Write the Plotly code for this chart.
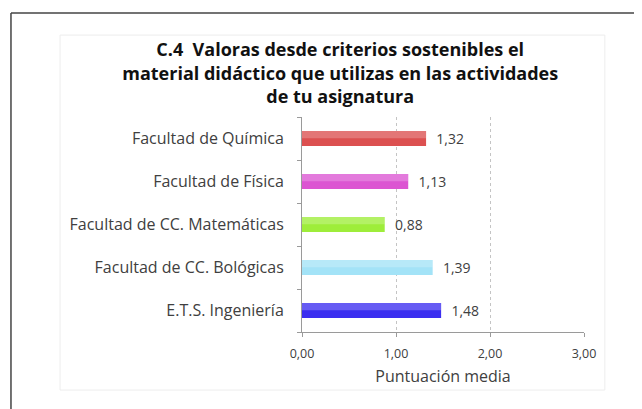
import plotly.graph_objects as go

# categorías (de abajo a arriba) y puntuación media
facultades = ["E.T.S. Ingeniería", "Facultad de CC. Bológicas", "Facultad de CC. Matemáticas",
              "Facultad de Física", "Facultad de Química"]
puntuacion = [1.48, 1.39, 0.88, 1.13, 1.32]
colores = ["#3b2ef0", "#a3e3f7", "#9eed3a", "#dc55d2", "#dc5050"]
ticks_x = [0, 1, 2, 3]

fig = go.Figure()

fig.add_trace(go.Bar(
    y=facultades, x=puntuacion, orientation="h",
    marker=dict(color=colores, line=dict(width=0)),
    width=0.35, offset=-0.175,
    texttemplate="\u00a0\u00a0%{x:.2f}", textposition="outside", constraintext="none",
    textfont=dict(family="Open Sans", size=14, color="#404040"),
    cliponaxis=False,
))
# brillo en la parte superior de cada barra
fig.add_trace(go.Bar(
    y=facultades, x=puntuacion, orientation="h",
    marker=dict(color="rgba(255,255,255,0.22)", line=dict(width=0)),
    width=0.17, offset=0.005, hoverinfo="skip",
))

# marco exterior de la captura y recuadro claro del gráfico
fig.add_shape(type="rect", xref="paper", yref="paper", x0=-0.858, x1=1.074, y0=-0.27, y1=1.381,
              line=dict(color="#ededed", width=1), layer="below")
fig.add_shape(type="line", xref="paper", yref="paper", x0=-1.032, x1=1.2, y0=1.484, y1=1.484,
              line=dict(color="#444444", width=1.5))
fig.add_shape(type="line", xref="paper", yref="paper", x0=-1.032, x1=-1.032, y0=-0.5, y1=1.484,
              line=dict(color="#444444", width=1.5))

fig.update_layout(
    width=634, height=401,
    margin=dict(l=294, r=58, t=109, b=77),
    paper_bgcolor="white", plot_bgcolor="white",
    separators=",.",
    showlegend=False,
    barmode="overlay",
    title=dict(
        text="<b>C.4  Valoras desde criterios sostenibles el<br>material didáctico que utilizas en las actividades<br>de tu asignatura</b>",
        x=0.524, xref="container", xanchor="center", y=0.88, yanchor="top",
        font=dict(family="Open Sans", size=18, color="#111111"),
    ),
    xaxis=dict(
        range=[0, 3], tickvals=ticks_x, tickformat=".2f",
        showgrid=True, gridcolor="#c4c4c4", griddash="dot", gridwidth=1,
        showline=True, linecolor="#9a9a9a", ticks="outside", tickcolor="#9a9a9a", ticklen=4,
        zeroline=False, ticklabelstandoff=6,
        tickfont=dict(family="Open Sans", size=12.5, color="#404040"),
        title=dict(text="Puntuación media", standoff=9,
                   font=dict(family="Open Sans", size=16, color="#404040")),
    ),
    yaxis=dict(
        showline=True, linecolor="#9a9a9a", ticks="outside", tickson="boundaries",
        tickcolor="#9a9a9a", ticklen=4, showgrid=False,
        tickfont=dict(family="Open Sans", size=16, color="#404040"),
        ticklabelstandoff=14,
    ),
)

fig.write_html("out.html")
